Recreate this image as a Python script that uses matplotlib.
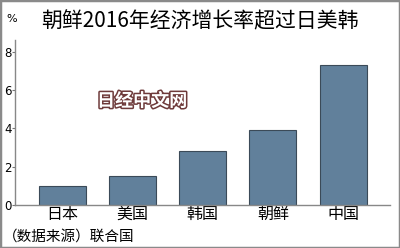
import matplotlib
matplotlib.use("Agg")
import matplotlib.pyplot as plt
import matplotlib.patheffects as pe
from matplotlib.patches import Rectangle

plt.rcParams['font.family'] = ['Noto Sans CJK SC', 'DejaVu Sans']

countries = ["日本", "美国", "韩国", "朝鲜", "中国"]
growth = [1.0, 1.5, 2.8, 3.9, 7.3]
yticks = [0, 2, 4, 6, 8]

title = "朝鲜2016年经济增长率超过日美韩"
source = "（数据来源）联合国"
watermark = "日经中文网"

fig = plt.figure(figsize=(4.0, 2.48), dpi=100)
ax = fig.add_axes([0.0375, 0.1734, 0.9375, 0.665])

x = range(len(countries))
ax.bar(x, growth, width=0.67, color="#61809b", edgecolor="#3b4a58", linewidth=0.8, zorder=2)

ax.set_xlim(-0.68, 4.67)
ax.set_ylim(0, 8.6)
ax.set_yticks(yticks)
ax.set_yticklabels([str(t) for t in yticks], fontsize=8.5, family="DejaVu Sans")
ax.set_xticks(list(x))
ax.set_xticklabels(countries, fontsize=11.5)
ax.tick_params(axis="x", length=0, pad=0.5)
ax.tick_params(axis="y", length=2, width=0.8, color="#777777", pad=0.5)

for s in ("top", "right"):
    ax.spines[s].set_visible(False)
for s in ("left", "bottom"):
    ax.spines[s].set_color("#888888")
    ax.spines[s].set_linewidth(1.0)

fig.text(0.5, 0.915, title, ha="center", va="center", fontsize=15, fontweight="medium")
fig.text(0.03, 0.925, "%", ha="center", va="center", fontsize=8, family="DejaVu Sans")
fig.text(0.006, 0.045, source, ha="left", va="center", fontsize=10.5)
fig.text(0.355, 0.593, watermark, ha="center", va="center", fontsize=13,
         fontweight="bold", color="white",
         path_effects=[pe.withStroke(linewidth=2.2, foreground="#6e3a3a")])

fig.patches.append(Rectangle((0, 0), 1, 1, transform=fig.transFigure, fill=False,
                             edgecolor="#8a8a8a", linewidth=2.5))

fig.savefig("out.png", dpi=100)
